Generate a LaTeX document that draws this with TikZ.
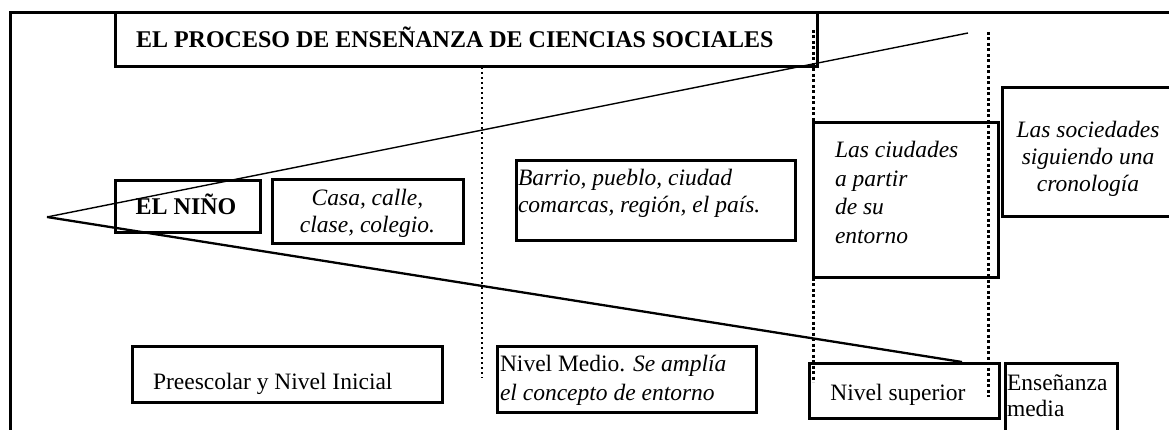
\documentclass[tikz,border=0pt]{standalone}
\usepackage{fontspec}
\setmainfont{Liberation Serif}
\newcommand\regfont[1]{\fontsize{23.5}{#1}\selectfont}
\begin{document}
\begin{tikzpicture}[x=1pt,y=-1pt,
  box/.style={draw, line width=3pt, inner sep=0pt, outer sep=0pt, rectangle},
  txt/.style={inner sep=0pt, outer sep=0pt},
  frameline/.style={line width=3pt},
  dotthin/.style={line width=1.2pt, dash pattern=on 2pt off 3pt},
  dotthick/.style={line width=3pt, dash pattern=on 3pt off 2.5pt},
  coneup/.style={line width=1.4pt},
  conelow/.style={line width=2.3pt}]
\useasboundingbox (0,0) rectangle (1169,430);
% outer frame
\coordinate (fbl) at (10,440);
\coordinate (ftl) at (10,13);
\coordinate (ftr) at (1180,13);
\draw[frameline] (fbl) -- (ftl) -- (ftr);
% boxes
\node[box, minimum width=702pt, minimum height=54pt] (title) at (466,40) {};
\node[box, minimum width=145pt, minimum height=52pt] (nino) at (187.5,207) {};
\node[box, minimum width=191pt, minimum height=64pt] (casa) at (367.5,212) {};
\node[box, minimum width=279pt, minimum height=80pt] (barrio) at (655.5,201) {};
\node[box, minimum width=185pt, minimum height=154pt] (ciudades) at (905.5,200) {};
\node[box, minimum width=183pt, minimum height=129pt] (sociedades) at (1093.5,152.5) {};
\node[box, minimum width=310pt, minimum height=56pt] (preesc) at (287,374) {};
\node[box, minimum width=259pt, minimum height=66pt] (medio) at (626.5,379) {};
\node[box, minimum width=190pt, minimum height=55pt] (superior) at (904,390.5) {};
\node[box, minimum width=112pt, minimum height=77pt] (ensenanza) at (1061,401.5) {};
% texts
\node[txt, anchor=base west] (ttitle) at (136,48) {\bfseries\fontsize{24}{28}\selectfont EL PROCESO DE ENSEÑANZA DE CIENCIAS SOCIALES};
\node[txt, anchor=base] (tnino) at (186,215) {\bfseries\fontsize{24}{28}\selectfont EL NIÑO};
\node[txt, anchor=base] (tcasa) at (367.5,206) {\itshape\regfont{27}\begin{tabular}[t]{@{}c@{}}Casa, calle,\\clase, colegio.\end{tabular}};
\node[txt, anchor=base west] (tbarrio) at (518,186) {\itshape\regfont{27}\begin{tabular}[t]{@{}l@{}}Barrio, pueblo, ciudad\\comarcas, región, el país.\end{tabular}};
\node[txt, anchor=base west] (tciudades) at (835,158) {\itshape\regfont{28.5}\begin{tabular}[t]{@{}l@{}}Las ciudades\\a partir\\de su\\entorno\end{tabular}};
\node[txt, anchor=base] (tsociedades) at (1088,138) {\itshape\regfont{27}\begin{tabular}[t]{@{}c@{}}Las sociedades\\siguiendo una\\cronología\end{tabular}};
\node[txt, anchor=base west] (tpreesc) at (153,389) {\regfont{27}Preescolar y Nivel Inicial};
\node[txt, anchor=base west] (tmedio) at (500,371) {\regfont{29}\begin{tabular}[t]{@{}l@{}}Nivel Medio. \textit{Se amplía}\\\textit{el concepto de entorno}\end{tabular}};
\node[txt, anchor=base] (tsuperior) at (898,400) {\regfont{27}Nivel superior};
\node[txt, anchor=base west] (tensenanza) at (1007,390) {\regfont{26}\begin{tabular}[t]{@{}l@{}}Enseñanza\\media\end{tabular}};
% dotted dividers
\coordinate (d1a) at (482,67);
\coordinate (d1b) at (482,378);
\coordinate (d2a) at (813,30);
\coordinate (d2b) at (813,382);
\coordinate (d3a) at (988,32);
\coordinate (d3b) at (988,397);
\draw[dotthin] (d1a) -- (d1b);
\draw[dotthick] (d2a) -- (d2b);
\draw[dotthick] (d3a) -- (d3b);
% cone
\coordinate (apex) at (47,217);
\coordinate (upend) at (968,33);
\coordinate (lowend) at (962,362);
\draw[coneup] (apex) -- (upend);
\draw[conelow] (apex) -- (lowend);
\end{tikzpicture}
\end{document}
